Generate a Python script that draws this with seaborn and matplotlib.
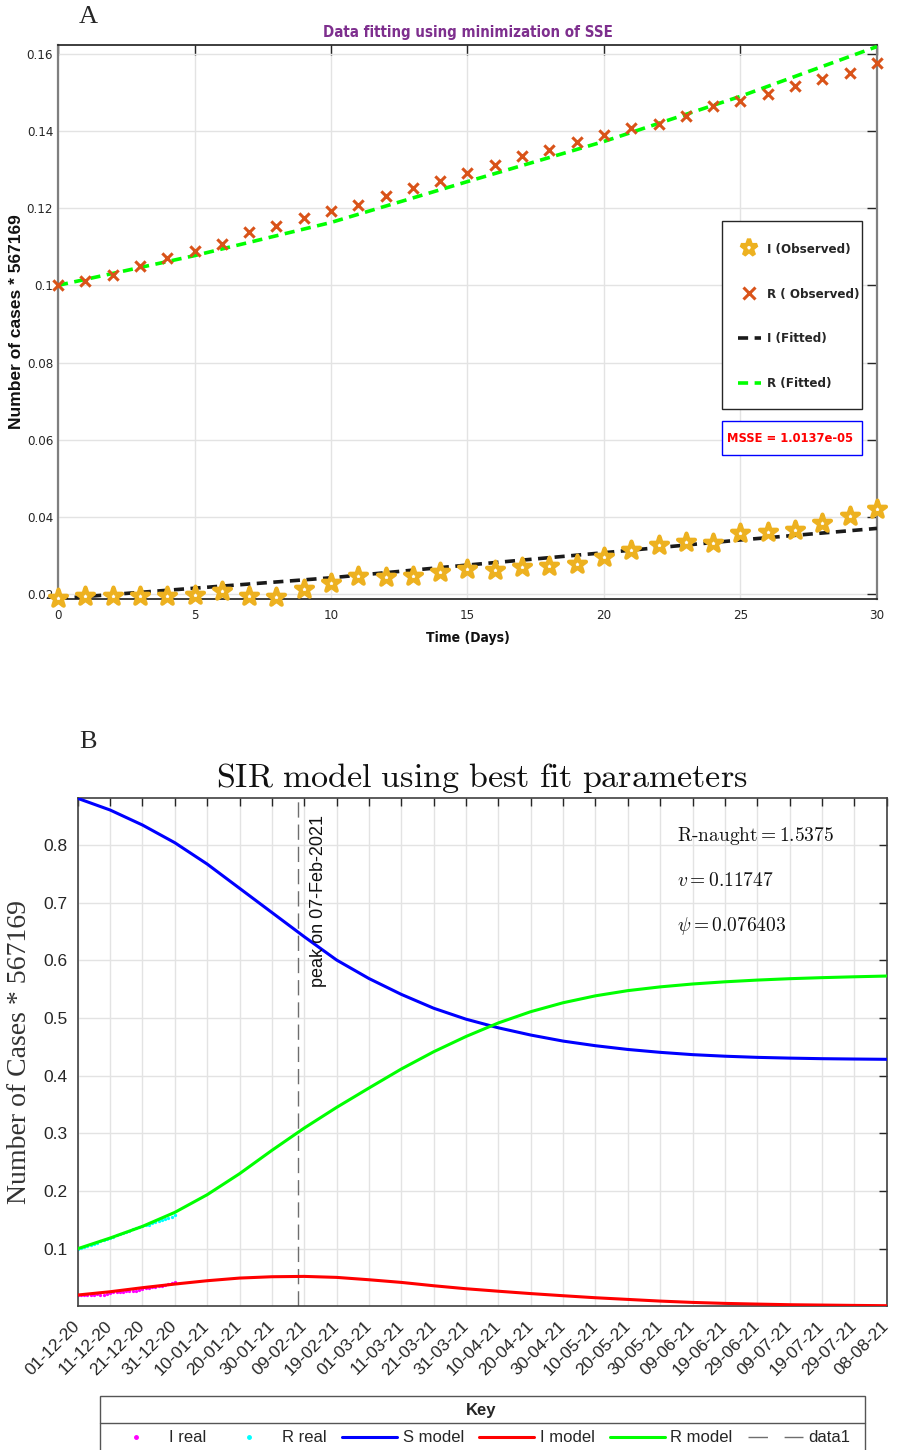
import os

import matplotlib
matplotlib.use("Agg")
import matplotlib.pyplot as plt
import matplotlib.transforms as mtransforms
import seaborn as sns
from matplotlib import font_manager
from matplotlib.font_manager import FontProperties
from matplotlib.lines import Line2D
from matplotlib.patches import Rectangle
from matplotlib.ticker import FuncFormatter

# ---- panel A: first 31 days, cases divided by 567169 ----
obs_days = [0, 1, 2, 3, 4, 5, 6, 7, 8, 9, 10, 11, 12, 13, 14, 15,
            16, 17, 18, 19, 20, 21, 22, 23, 24, 25, 26, 27, 28, 29, 30]
i_observed = [0.0190, 0.0196, 0.0196, 0.0195, 0.0195, 0.0198, 0.0209, 0.0195,
              0.0193, 0.0214, 0.0229, 0.0246, 0.0245, 0.0246, 0.0258, 0.0265,
              0.0262, 0.0271, 0.0272, 0.0277, 0.0295, 0.0315, 0.0326, 0.0334,
              0.0331, 0.0359, 0.0361, 0.0367, 0.0383, 0.0402, 0.0419]
r_observed = [0.1000, 0.1012, 0.1028, 0.1051, 0.1070, 0.1089, 0.1107, 0.1137,
              0.1155, 0.1175, 0.1193, 0.1209, 0.1232, 0.1253, 0.1271, 0.1291,
              0.1313, 0.1335, 0.1351, 0.1371, 0.1390, 0.1408, 0.1419, 0.1438,
              0.1464, 0.1478, 0.1496, 0.1517, 0.1536, 0.1550, 0.1576]
fit_days = [0, 5, 10, 15, 20, 25, 30]
i_fitted = [0.0188, 0.0215, 0.0242, 0.0275, 0.0307, 0.0340, 0.0370]
r_fitted = [0.1000, 0.1077, 0.1163, 0.1269, 0.1373, 0.1490, 0.1619]
msse_text = "MSSE = 1.0137e-05"

# ---- panel B: model run from 01-12-2020 ----
model_days = [0, 10, 20, 30, 40, 50, 60, 70, 80, 90, 100, 110, 120,
              130, 140, 150, 160, 170, 180, 190, 200, 210, 220, 230, 240, 250]
date_labels = ["01-12-20", "11-12-20", "21-12-20", "31-12-20", "10-01-21",
               "20-01-21", "30-01-21", "09-02-21", "19-02-21", "01-03-21",
               "11-03-21", "21-03-21", "31-03-21", "10-04-21", "20-04-21",
               "30-04-21", "10-05-21", "20-05-21", "30-05-21", "09-06-21",
               "19-06-21", "29-06-21", "09-07-21", "19-07-21", "29-07-21",
               "08-08-21"]
s_model = [0.8809, 0.8607, 0.8347, 0.8040, 0.7670, 0.7250, 0.6830, 0.6410,
           0.6006, 0.5685, 0.5410, 0.5170, 0.4980, 0.4830, 0.4705, 0.4600,
           0.4520, 0.4455, 0.4405, 0.4365, 0.4338, 0.4318, 0.4305, 0.4295,
           0.4289, 0.4284]
i_model = [0.0197, 0.0254, 0.0324, 0.0387, 0.0445, 0.0491, 0.0514, 0.0520,
           0.0503, 0.0462, 0.0416, 0.0358, 0.0306, 0.0263, 0.0222, 0.0185,
           0.0150, 0.0121, 0.0092, 0.0069, 0.0052, 0.0040, 0.0029, 0.0023,
           0.0017, 0.0012]
r_model = [0.1000, 0.1185, 0.1387, 0.1630, 0.1936, 0.2300, 0.2705, 0.3092,
           0.3450, 0.3786, 0.4116, 0.4415, 0.4680, 0.4915, 0.5110, 0.5265,
           0.5385, 0.5475, 0.5540, 0.5590, 0.5628, 0.5658, 0.5682, 0.5700,
           0.5715, 0.5728]
peak_day = 68   # 07-Feb-2021
peak_label = "peak on 07-Feb-2021"
param_lines = [r"$\mathrm{R\text{-}naught} = 1.5375$", r"$v = 0.11747$",
               r"$\psi = 0.076403$"]

W, H = 904, 1450


def fx(px):
    return px / W


def fy(py):
    return 1 - py / H


def narrow_font(size, bold=False):
    # MATLAB panel uses a condensed Helvetica; look for a narrow face on disk
    keys = (["LiberationSansNarrow-Bold", "DejaVuSansCondensed-Bold"] if bold
            else ["LiberationSansNarrow-Regular", "DejaVuSansCondensed"])
    for key in keys:
        for f in font_manager.fontManager.ttflist:
            if os.path.splitext(os.path.basename(f.fname))[0] == key:
                return FontProperties(fname=f.fname, size=size)
    return FontProperties(family="Liberation Sans", size=size * 0.95,
                          weight="bold" if bold else "normal")


sns.set_theme(style="whitegrid")
plt.rcParams["font.family"] = ["Liberation Sans", "DejaVu Sans"]
plt.rcParams["mathtext.fontset"] = "cm"

fig = plt.figure(figsize=(W / 100, H / 100), dpi=100)
fig.patch.set_facecolor("white")

# ================= panel A =================
ax1 = fig.add_axes([fx(58), fy(599), fx(877) - fx(58), fy(45) - fy(599)])
ax1.set_facecolor("white")

dash = (0, (2.8, 1.8))
sns.lineplot(x=fit_days, y=i_fitted, ax=ax1, color="#1a1a1a", linewidth=2.6,
             linestyle=dash, errorbar=None, zorder=3)
sns.lineplot(x=fit_days, y=r_fitted, ax=ax1, color="#00FF00", linewidth=2.6,
             linestyle=dash, errorbar=None, zorder=3)
sns.scatterplot(x=obs_days, y=i_observed, ax=ax1, marker="*", s=165,
                color="white", edgecolor="#EDB120", linewidth=3.0, zorder=4,
                clip_on=False)
sns.scatterplot(x=obs_days, y=r_observed, ax=ax1, marker="x", s=55,
                color="#D95319", linewidth=2.2, zorder=4, clip_on=False)

ax1.set_xlim(0, 30)
ax1.set_ylim(0.0187, 0.1623)
ax1.set_xticks([0, 5, 10, 15, 20, 25, 30])
ax1.set_yticks([0.02, 0.04, 0.06, 0.08, 0.10, 0.12, 0.14, 0.16])
ax1.yaxis.set_major_formatter(FuncFormatter(lambda v, p: f"{v:g}"))
ax1.grid(True, color="#E3E3E3", linewidth=1)
ax1.tick_params(direction="in", length=7, width=1, top=True, right=True,
                colors="#262626")
ax1.tick_params(axis="x", pad=7)
ax1.tick_params(axis="y", pad=3.5)
tick_fp = narrow_font(9.5)
for lab in ax1.get_xticklabels() + ax1.get_yticklabels():
    lab.set_fontproperties(tick_fp)
    lab.set_color("#262626")
for side in ["top", "bottom"]:
    ax1.spines[side].set_color("#262626")
for side in ["left", "right"]:
    ax1.spines[side].set_color("#7f7f7f")
    ax1.spines[side].set_linewidth(1.6)

ax1.set_title("Data fitting using minimization of SSE", color="#7E2F8E",
              fontproperties=narrow_font(10.8, bold=True), pad=6)
ax1.set_xlabel("Time (Days)", fontproperties=narrow_font(10, bold=True),
               color="#111111")
ax1.xaxis.set_label_coords(0.5, -0.057)
ax1.set_ylabel("Number of cases * 567169", fontsize=12.5, fontweight="bold",
               color="#111111")
ax1.yaxis.set_label_coords(-0.041, 0.5)

# legend box of panel A
fig.add_artist(Rectangle((fx(722), fy(409)), fx(862) - fx(722), fy(221) - fy(409),
                         transform=fig.transFigure, fill=True, facecolor="white",
                         edgecolor="#262626", linewidth=1, zorder=5))
legA = [
    Line2D([], [], ls="none", marker="*", ms=12.5, mfc="white", mec="#EDB120", mew=3.0),
    Line2D([], [], ls="none", marker="x", ms=8, color="#D95319", mew=2.2),
    Line2D([], [], color="#1a1a1a", lw=2.6, ls=dash),
    Line2D([], [], color="#00FF00", lw=2.6, ls=dash),
]
leg1 = fig.legend(legA, ["I (Observed)", "R ( Observed)", "I (Fitted)", "R (Fitted)"],
                  loc="center left", bbox_to_anchor=(fx(731), fy(316.5)),
                  frameon=False, borderpad=0, handlelength=1.8, handletextpad=0.4,
                  labelspacing=2.42, prop=narrow_font(9.5, bold=True))
leg1.set_zorder(6)

fig.add_artist(Rectangle((fx(722), fy(455)), fx(862) - fx(722), fy(421) - fy(455),
                         transform=fig.transFigure, fill=True, facecolor="white",
                         edgecolor="#0000FF", linewidth=1, zorder=5))
fig.text(fx(727), fy(438), msse_text, color="#FF0000",
         fontproperties=narrow_font(9.3, bold=True), ha="left", va="center", zorder=6)

fig.text(fx(88), fy(17), "A", fontsize=19, fontfamily="Liberation Serif",
         ha="center", va="center")

# ================= panel B =================
ax2 = fig.add_axes([fx(77.7), fy(1305.7), fx(886.7) - fx(77.7), fy(798) - fy(1305.7)])
ax2.set_facecolor("white")

sns.scatterplot(x=obs_days, y=i_observed, ax=ax2, marker=".", s=22,
                color="#FF00FF", linewidth=0, zorder=2)
sns.scatterplot(x=obs_days, y=r_observed, ax=ax2, marker=".", s=22,
                color="#00FFFF", linewidth=0, zorder=2)
sns.lineplot(x=model_days, y=s_model, ax=ax2, color="#0000FF", linewidth=2.2,
             errorbar=None, zorder=3)
sns.lineplot(x=model_days, y=i_model, ax=ax2, color="#FF0000", linewidth=2.2,
             errorbar=None, zorder=3)
sns.lineplot(x=model_days, y=r_model, ax=ax2, color="#00FF00", linewidth=2.2,
             errorbar=None, zorder=3)
ax2.axvline(peak_day, color="#6e6e6e", linewidth=1.0, linestyle=(0, (11, 5)), zorder=2)

ax2.set_xlim(0, 250)
ax2.set_ylim(0.0012, 0.8815)
ax2.set_xticks(model_days)
ax2.set_xticklabels(date_labels, rotation=45, ha="right", va="center",
                    rotation_mode="anchor", fontsize=12.5, color="#262626")
shift = mtransforms.ScaledTranslation(9 / 100, 0, fig.dpi_scale_trans)
for lab in ax2.get_xticklabels():
    lab.set_transform(lab.get_transform() + shift)
ax2.set_yticks([0.1, 0.2, 0.3, 0.4, 0.5, 0.6, 0.7, 0.8])
ax2.yaxis.set_major_formatter(FuncFormatter(lambda v, p: f"{v:g}"))
ax2.grid(True, color="#E3E3E3", linewidth=1)
ax2.tick_params(direction="in", length=5.5, width=1, top=True, right=True,
                colors="#262626", labelsize=12.5)
ax2.tick_params(axis="x", pad=13)
ax2.tick_params(axis="y", pad=7)
for side in ax2.spines:
    ax2.spines[side].set_color("#404040")
    ax2.spines[side].set_linewidth(1.2)

ax2.set_title(r"$\mathrm{SIR\ model\ using\ best\ fit\ parameters}$",
              fontsize=24.5, pad=8, color="#111111")
ax2.set_ylabel("Number of Cases * 567169", fontsize=20,
               fontfamily="Liberation Serif", color="#333333")
ax2.yaxis.set_label_coords(-0.0565, 0.5)

ax2.text(peak_day + 3.8, 0.553, peak_label, rotation=90, ha="left", va="bottom",
         fontsize=13, color="#111111")

for txt, yb in zip(param_lines, [0.8062, 0.7283, 0.6503]):
    ax2.text(185.2, yb, txt, fontsize=14, ha="left", va="baseline", color="#111111")

fig.text(fx(88), fy(742), "B", fontsize=19, fontfamily="Liberation Serif",
         ha="center", va="center")

# ---- "Key" legend under panel B (runs off the bottom of the figure) ----
fig.add_artist(Rectangle((fx(100), fy(1470)), fx(865) - fx(100), fy(1396) - fy(1470),
                         transform=fig.transFigure, fill=False,
                         edgecolor="#555555", linewidth=1))
fig.add_artist(Line2D([fx(100), fx(865)], [fy(1423), fy(1423)],
                      transform=fig.transFigure, color="#555555", linewidth=1))
fig.text(fx(481), fy(1410), "Key", fontsize=12, fontweight="bold",
         ha="center", va="center")
legB = [
    Line2D([], [], ls="none", marker=".", ms=5, color="#FF00FF"),
    Line2D([], [], ls="none", marker=".", ms=5, color="#00FFFF"),
    Line2D([], [], color="#0000FF", lw=2.2),
    Line2D([], [], color="#FF0000", lw=2.2),
    Line2D([], [], color="#00FF00", lw=2.2),
    Line2D([], [], color="#6e6e6e", lw=1.0, ls=(0, (14, 12))),
]
fig.legend(legB, ["I real", "R real", "S model", "I model", "R model", "data1"],
           ncol=6, loc="center left", bbox_to_anchor=(fx(100), fy(1438)),
           frameon=False, borderpad=0, fontsize=12, handlelength=3.3,
           handletextpad=0.35, columnspacing=0.9)

fig.savefig("out.png", dpi=100)
